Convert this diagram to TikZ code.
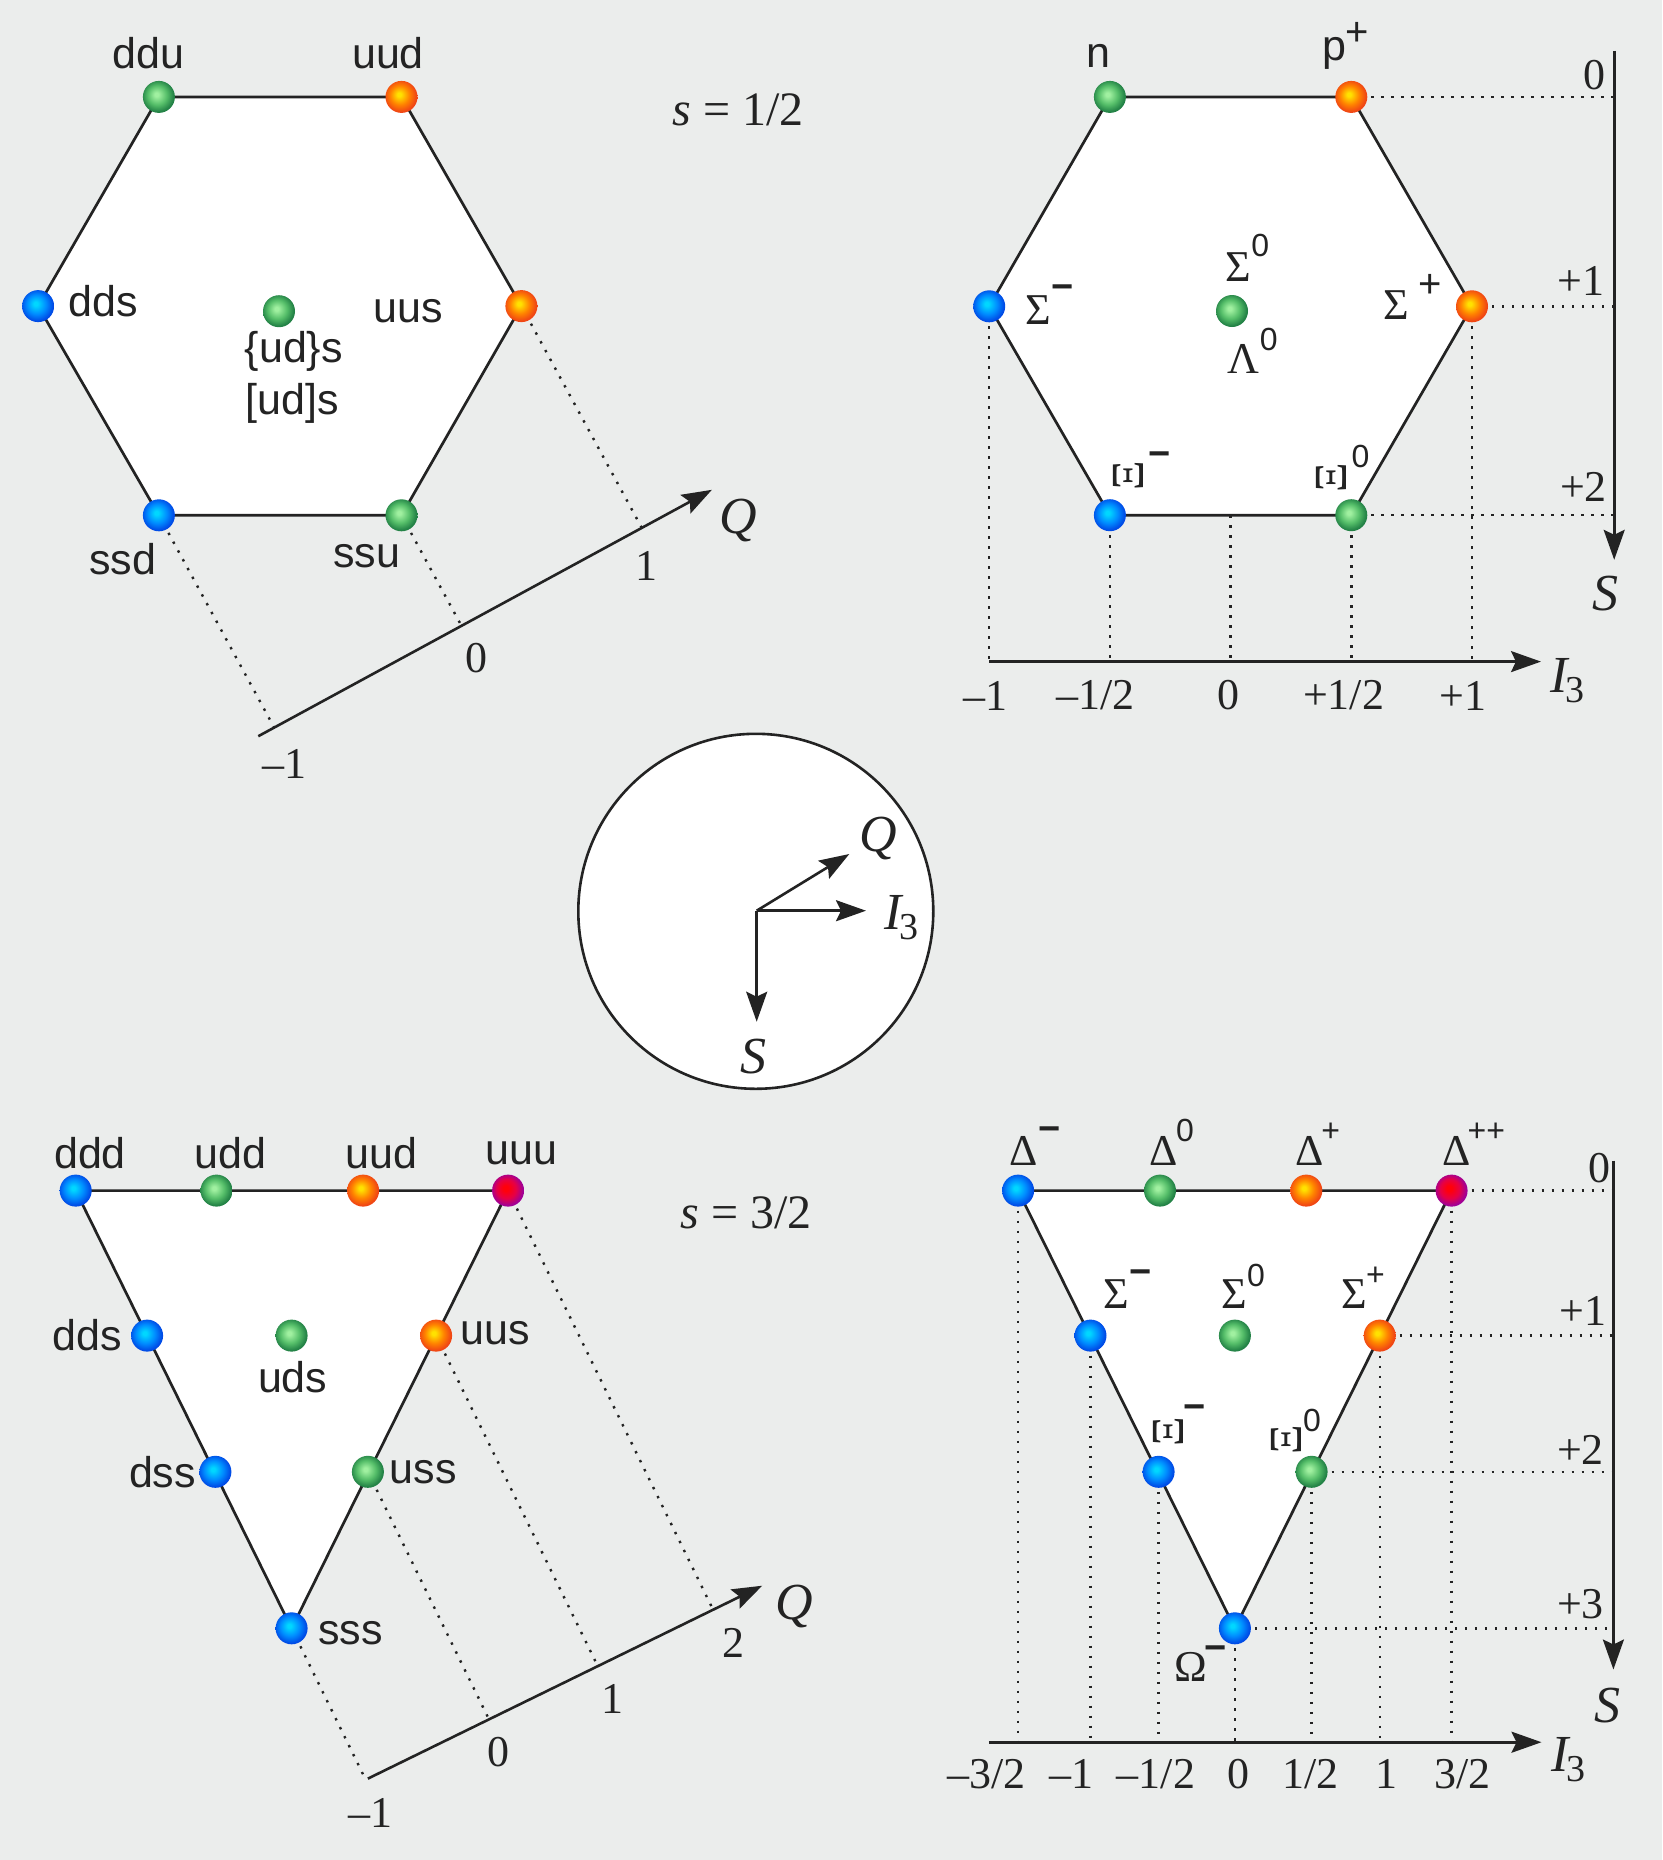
\documentclass[tikz,border=0pt]{standalone}
\usepackage{fontspec}
\usepackage{graphicx}
\setmainfont{Liberation Serif}
\setsansfont{Liberation Sans}
\usetikzlibrary{calc,arrows.meta,backgrounds}

\definecolor{bgc}{RGB}{235,237,236}
\definecolor{ink}{RGB}{35,35,35}
\definecolor{bHi}{RGB}{0,215,255}
\definecolor{bMid}{RGB}{0,140,255}
\definecolor{bEd}{RGB}{0,75,230}
\definecolor{gHi}{RGB}{160,240,160}
\definecolor{gMid}{RGB}{85,190,105}
\definecolor{gEd}{RGB}{35,130,70}
\definecolor{oHi}{RGB}{255,225,0}
\definecolor{oMid}{RGB}{255,130,0}
\definecolor{oEd}{RGB}{240,70,20}
\definecolor{mHi}{RGB}{255,0,10}
\definecolor{mMid}{RGB}{230,0,70}
\definecolor{mEd}{RGB}{160,0,150}

\pgfdeclareradialshading{ballblue}{\pgfqpoint{-4bp}{4bp}}{color(0bp)=(bHi); color(3bp)=(bHi); color(15bp)=(bMid); color(25bp)=(bEd); color(50bp)=(bEd)}
\pgfdeclareradialshading{ballgreen}{\pgfqpoint{-4bp}{4bp}}{color(0bp)=(gHi); color(3bp)=(gHi); color(15bp)=(gMid); color(25bp)=(gEd); color(50bp)=(gEd)}
\pgfdeclareradialshading{ballorange}{\pgfqpoint{-4bp}{4bp}}{color(0bp)=(oHi); color(3bp)=(oHi); color(15bp)=(oMid); color(25bp)=(oEd); color(50bp)=(oEd)}
\pgfdeclareradialshading{ballmag}{\pgfqpoint{-4bp}{4bp}}{color(0bp)=(mHi); color(4bp)=(mHi); color(15bp)=(mMid); color(25bp)=(mEd); color(50bp)=(mEd)}

\newcommand\hsp[3]{\rlap{\hspace*{#1}\smash{\raisebox{#2}{\fontsize{16}{16}\selectfont\sffamily #3}}}}
\newcommand\mminus{{\fontsize{19}{19}\selectfont\bfseries −}}
\newcommand\bplus{{\fontsize{20}{20}\selectfont +}}

\begin{document}
\begin{tikzpicture}[x=0.5pt,y=-0.5pt,
  ball/.style={circle, minimum size=16pt, inner sep=0pt, draw=none, shade},
  bball/.style={ball, shading=ballblue},
  gball/.style={ball, shading=ballgreen},
  oball/.style={ball, shading=ballorange},
  mball/.style={ball, shading=ballmag},
  edge/.style={draw=ink, line width=1.35pt, line join=miter},
  axisline/.style={draw=ink, line width=1.3pt},
  axarrow/.style={axisline, -{Stealth[length=15pt,width=10.5pt,inset=2.5pt]}},
  dotl/.style={draw=ink, line width=1.2pt, dash pattern=on 1.2pt off 3.8pt},
  qlab/.style={font=\fontsize{21.5}{24}\selectfont\sffamily, text=ink, inner sep=0pt},
  glab/.style={font=\fontsize{22}{24}\selectfont, text=ink, inner sep=0pt},
  xilab/.style={font=\fontsize{23}{24}\selectfont, text=ink, inner sep=0pt, rotate=90},
  supl/.style={font=\fontsize{16}{16}\selectfont\sffamily, text=ink, inner sep=0pt},
  tick/.style={font=\fontsize{22}{24}\selectfont, text=ink, inner sep=0pt},
  axlab/.style={font=\fontsize{26}{28}\selectfont\itshape, text=ink, inner sep=0pt},
  spin/.style={font=\fontsize{24}{26}\selectfont, text=ink, inner sep=0pt}
]
\useasboundingbox (0,0) rectangle (1662,1860);
\begin{scope}[on background layer]
  \fill[bgc] (0,0) rectangle (1662,1860);
\end{scope}

%% ================= top left: quark hexagon =================
\node[gball] (a1) at (158.9,96.9) {};
\node[oball] (a2) at (401.5,96.9) {};
\node[oball] (a3) at (521.4,306.1) {};
\node[gball] (a4) at (401.5,515.3) {};
\node[bball] (a5) at (158.9,515.3) {};
\node[bball] (a6) at (38.1,306.1) {};
\node[gball] (a0) at (279,311.2) {};

\node[qlab] (la1) at (148.2,53.6) {ddu};
\node[qlab] (la2) at (388,53.6) {uud};
\node[qlab] (la6) at (103.2,301) {dds};
\node[qlab] (la3) at (408.6,311.2) {uus};
\node[qlab] (la0a) at (293.8,351) {\{ud\}s};
\node[qlab] (la0b) at (292.2,403) {[ud]s};
\node[qlab] (la5) at (122.8,558.7) {ssd};
\node[qlab] (la4) at (366.8,556.1) {ssu};
\node[spin] (sa) at (738.4,109.7) {\textit{s} = 1/2};

\coordinate (aq0) at (258.3,736.2);
\coordinate (aq1) at (711.9,489.8);
\node[axlab] (aQ) at (738.4,520.4) {Q};
\node[tick] (at1) at (646.8,566.3) {1};
\node[tick] (at0) at (476.4,658.2) {0};
\node[tick] (atm) at (284.8,763.8) {–1};

%% ================= top right: baryon octet =================
\node[gball] (b1) at (1109.9,96.9) {};
\node[oball] (b2) at (1351.3,96.9) {};
\node[oball] (b3) at (1472,306.3) {};
\node[gball] (b4) at (1351.3,515.2) {};
\node[bball] (b5) at (1109.9,515.2) {};
\node[bball] (b6) at (989.2,306.3) {};
\node[gball] (b0) at (1232,311) {};
\coordinate (bmid) at (1230.6,515.2);

\node[qlab] (lb1) at (1098,55.7) {n};
\node[qlab] (lb2) at (1334,53) {p\hsp{0pt}{7.5pt}{\bplus}};
\node[glab] (lb6) at (1038,310) {Σ\hsp{0.5pt}{12.5pt}{\mminus}};
\node[glab] (lb0a) at (1238.6,266.6) {Σ\hsp{0pt}{12.5pt}{0}};
\node[glab] (lb0b) at (1243.9,358.7) {Λ\hsp{0pt}{11.5pt}{0}};
\node[glab] (lb3) at (1396.7,305.4) {Σ\hsp{4.5pt}{11pt}{\bplus}};
\node[xilab] (lb5) at (1128.3,475.7) {Ξ};
\node[supl] (lb5s) at (1160,459.3) {\mminus};
\node[xilab] (lb4) at (1331.4,477.4) {Ξ};
\node[supl] (lb4s) at (1360.6,456) {0};

\coordinate (bs0) at (1614.2,50.9);
\coordinate (bs1) at (1614.2,559.8);
\coordinate (bi0) at (989.2,661.6);
\coordinate (bi1) at (1541,661.6);
\node[axlab] (bS) at (1605.7,593.8) {S};
\node[axlab] (bI) at (1567.5,681) {I\kern-1pt\raisebox{-5pt}{\fontsize{19}{19}\selectfont\upshape 3}};
\node[tick] (bsa) at (1594,75.1) {0};
\node[tick] (bsb) at (1580.8,281) {+1};
\node[tick] (bsc) at (1583.5,487.1) {+2};
\node[tick] (bia) at (985,695.5) {–1};
\node[tick] (bib) at (1095.3,695.5) {–1/2};
\node[tick] (bic) at (1228,695.5) {0};
\node[tick] (bid) at (1343.6,695.5) {+1/2};
\node[tick] (bie) at (1463,695.5) {+1};

%% ================= centre: axes key =================
\coordinate (cc) at (755.8,911.3);
\coordinate (co) at (756.7,910.7);
\coordinate (cq) at (849.3,854);
\coordinate (ci) at (866,910.7);
\coordinate (cs) at (756.7,1021.7);
\node[axlab] (cQ) at (878.3,838) {Q};
\node[axlab] (cI) at (901.7,918) {I\kern-1pt\raisebox{-5pt}{\fontsize{19}{19}\selectfont\upshape 3}};
\node[axlab] (cS) at (753.3,1057) {S};

%% ================= bottom left: quark decuplet =================
\node[bball] (c1) at (75.7,1190.6) {};
\node[gball] (c2) at (216.5,1190.6) {};
\node[oball] (c3) at (363.1,1190.6) {};
\node[mball] (c4) at (508.1,1190.6) {};
\node[bball] (c5) at (147.1,1335.6) {};
\node[gball] (c6) at (291.6,1335.6) {};
\node[oball] (c7) at (436.1,1335.6) {};
\node[bball] (c8) at (215.4,1471.8) {};
\node[gball] (c9) at (367.9,1471.8) {};
\node[bball] (c10) at (291.6,1628.3) {};

\node[qlab] (lc1) at (90,1153.3) {ddd};
\node[qlab] (lc2) at (230.2,1153.3) {udd};
\node[qlab] (lc3) at (381.1,1153.3) {uud};
\node[qlab] (lc4) at (521.4,1153.3) {uuu};
\node[qlab] (lc5) at (87.3,1335.1) {dds};
\node[qlab] (lc6) at (292.7,1377.2) {uds};
\node[qlab] (lc7) at (494.9,1332.7) {uus};
\node[qlab] (lc8) at (162.5,1471.8) {dss};
\node[qlab] (lc9) at (423.4,1471.8) {uss};
\node[qlab] (lc10) at (350.4,1633.2) {sss};
\node[spin] (sc) at (746.3,1212.4) {\textit{s} = 3/2};

\coordinate (cq0) at (367.9,1778.6);
\coordinate (cq1) at (762.2,1585.7);
\node[axlab] (cQ2) at (794,1606.5) {Q};
\node[tick] (ct2) at (733,1642.9) {2};
\node[tick] (ct1) at (612.4,1698.6) {1};
\node[tick] (ct0) at (498.6,1751.9) {0};
\node[tick] (ctm) at (370.5,1812.5) {–1};

%% ================= bottom right: baryon decuplet =================
\node[bball] (d1) at (1018.1,1190.6) {};
\node[gball] (d2) at (1160,1190.6) {};
\node[oball] (d3) at (1306.3,1190.6) {};
\node[mball] (d4) at (1451.6,1190.6) {};
\node[bball] (d5) at (1090.5,1335.6) {};
\node[gball] (d6) at (1234.9,1335.6) {};
\node[oball] (d7) at (1379.7,1335.6) {};
\node[bball] (d8) at (1158.6,1471.8) {};
\node[gball] (d9) at (1311.6,1471.8) {};
\node[bball] (d10) at (1234.9,1628.3) {};

\node[glab] (ld1) at (1023.9,1150.9) {Δ\hsp{0pt}{12pt}{\mminus}};
\node[glab] (ld2) at (1163.9,1150.9) {Δ\hsp{-1pt}{12pt}{0}};
\node[glab] (ld3) at (1309.2,1150.9) {Δ\hsp{-1pt}{12pt}{+}};
\node[glab] (ld4) at (1456.5,1150.9) {Δ\hsp{-1.5pt}{12pt}{++}};
\node[glab] (ld5) at (1116.3,1293.9) {Σ\hsp{0pt}{12pt}{\mminus}};
\node[glab] (ld6) at (1234.4,1293.9) {Σ\hsp{0pt}{11pt}{0}};
\node[glab] (ld7) at (1354.4,1293.9) {Σ\hsp{-0.5pt}{11.5pt}{+}};
\node[xilab] (ld8) at (1168.8,1432) {Ξ};
\node[supl] (ld8s) at (1195,1412.6) {\mminus};
\node[xilab] (ld9) at (1286.4,1439.3) {Ξ};
\node[supl] (ld9s) at (1312.1,1420.3) {0};
\node[glab] (ld10) at (1190.6,1667.1) {Ω\hsp{-1pt}{10.5pt}{\mminus}};

\coordinate (ds0) at (1613.4,1160.6);
\coordinate (ds1) at (1613.4,1669.5);
\coordinate (di0) at (988.9,1742.2);
\coordinate (di1) at (1541.5,1742.2);
\node[axlab] (dS) at (1607.1,1705.9) {S};
\node[axlab] (dI) at (1568.3,1759.2) {I\kern-1pt\raisebox{-5pt}{\fontsize{19}{19}\selectfont\upshape 3}};
\node[tick] (dsa) at (1599.8,1167.9) {0};
\node[tick] (dsb) at (1582.8,1310.8) {+1};
\node[tick] (dsc) at (1580.4,1450) {+2};
\node[tick] (dsd) at (1580.4,1604.1) {+3};
\node[tick] (dia) at (986.5,1773.7) {–3/2};
\node[tick] (dib) at (1071,1773.7) {–1};
\node[tick] (dic) at (1156.1,1773.7) {–1/2};
\node[tick] (did) at (1238.7,1773.7) {0};
\node[tick] (die) at (1310.7,1773.7) {1/2};
\node[tick] (dif) at (1386,1773.7) {1};
\node[tick] (dig) at (1462.8,1773.7) {3/2};

%% ================= lines (behind the balls) =================
\begin{scope}[on background layer]
  % centre disc
  \draw[draw=ink, line width=1.3pt, fill=white] (cc) circle[radius=88.75pt];
  % top left
  \draw[edge, fill=white] (a1.center) -- (a2.center) -- (a3.center) -- (a4.center) -- (a5.center) -- (a6.center) -- cycle;
  \draw[dotl] (a5.center) -- ($(aq0)!(a5.center)!(aq1)$);
  \draw[dotl] (a4.center) -- ($(aq0)!(a4.center)!(aq1)$);
  \draw[dotl] (a3.center) -- ($(aq0)!(a3.center)!(aq1)$);
  \draw[axarrow] (aq0) -- (aq1);
  % top right
  \draw[edge, fill=white] (b1.center) -- (b2.center) -- (b3.center) -- (b4.center) -- (b5.center) -- (b6.center) -- cycle;
  \draw[dotl] (b6.center) -- (b6.center |- bi0);
  \draw[dotl] (b5.center) -- (b5.center |- bi0);
  \draw[dotl] (bmid) -- (bmid |- bi0);
  \draw[dotl] (b4.center) -- (b4.center |- bi0);
  \draw[dotl] (b3.center) -- (b3.center |- bi0);
  \draw[dotl] (b2.center) -- (b2.center -| bs0);
  \draw[dotl] (b3.center) -- (b3.center -| bs0);
  \draw[dotl] (b4.center) -- (b4.center -| bs0);
  \draw[axarrow] (bs0) -- (bs1);
  \draw[axarrow] (bi0) -- (bi1);
  % bottom left
  \draw[edge, fill=white] (c1.center) -- (c4.center) -- (c10.center) -- cycle;
  \draw[dotl] (c10.center) -- ($(cq0)!(c10.center)!(cq1)$);
  \draw[dotl] (c9.center) -- ($(cq0)!(c9.center)!(cq1)$);
  \draw[dotl] (c7.center) -- ($(cq0)!(c7.center)!(cq1)$);
  \draw[dotl] (c4.center) -- ($(cq0)!(c4.center)!(cq1)$);
  \draw[axarrow] (cq0) -- (cq1);
  % bottom right
  \draw[edge, fill=white] (d1.center) -- (d4.center) -- (d10.center) -- cycle;
  \foreach \n in {d1,d5,d8,d10,d9,d7,d4} {
    \draw[dotl] (\n.center) -- (\n.center |- di0);
  }
  \foreach \n in {d4,d7,d9,d10} {
    \draw[dotl] (\n.center) -- (\n.center -| ds0);
  }
  \draw[axarrow] (ds0) -- (ds1);
  \draw[axarrow] (di0) -- (di1);
\end{scope}

% centre key arrows (on top of the white disc)
\draw[axarrow] (co) -- (cq);
\draw[axarrow] (co) -- (ci);
\draw[axarrow] (co) -- (cs);

\end{tikzpicture}
\end{document}
